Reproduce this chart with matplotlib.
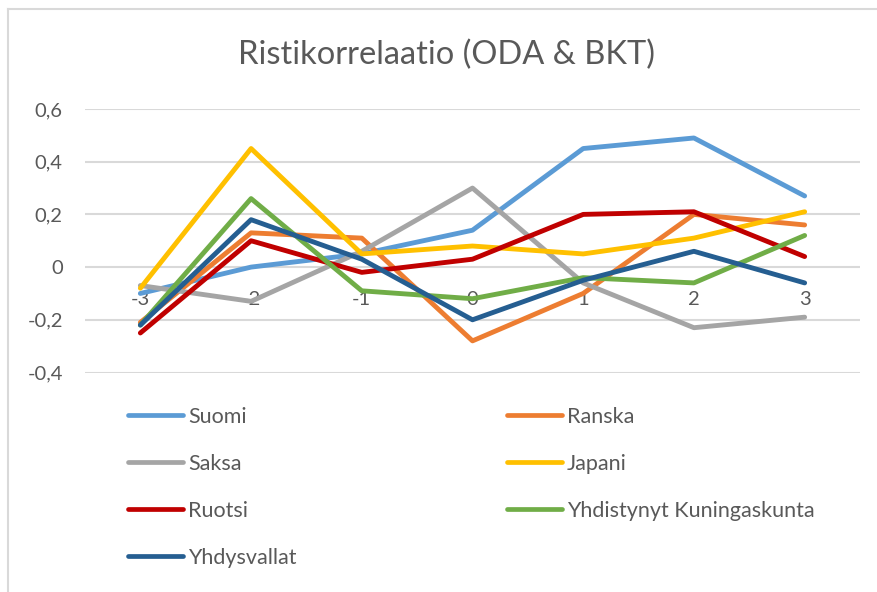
import matplotlib
matplotlib.use("Agg")
import matplotlib.pyplot as plt
from matplotlib.lines import Line2D

plt.rcParams['font.family'] = ['Lato', 'DejaVu Sans']

# ---- data ----
lags = [-3, -2, -1, 0, 1, 2, 3]
lag_labels = ["-3", "-2", "-1", "0", "1", "2", "3"]
suomi = [-0.10, 0.00, 0.05, 0.14, 0.45, 0.49, 0.27]
ranska = [-0.21, 0.13, 0.11, -0.28, -0.10, 0.20, 0.16]
saksa = [-0.07, -0.13, 0.06, 0.30, -0.06, -0.23, -0.19]
japani = [-0.08, 0.45, 0.05, 0.08, 0.05, 0.11, 0.21]
ruotsi = [-0.25, 0.10, -0.02, 0.03, 0.20, 0.21, 0.04]
uk = [-0.22, 0.26, -0.09, -0.12, -0.04, -0.06, 0.12]
usa = [-0.22, 0.18, 0.03, -0.20, -0.05, 0.06, -0.06]

series_names = ["Suomi", "Ranska", "Saksa", "Japani", "Ruotsi",
                "Yhdistynyt Kuningaskunta", "Yhdysvallat"]
series_values = [suomi, ranska, saksa, japani, ruotsi, uk, usa]
colors = ["#5B9BD5", "#ED7D31", "#A5A5A5", "#FFC000", "#C00000",
          "#70AD47", "#255E91"]

yticks = [-0.4, -0.2, 0, 0.2, 0.4, 0.6]
ytick_labels = ["-0,4", "-0,2", "0", "0,2", "0,4", "0,6"]
title = "Ristikorrelaatio (ODA & BKT)"

text_color = "#595959"
grid_color = "#D9D9D9"

W, H = 877, 592
fig = plt.figure(figsize=(W / 100, H / 100), dpi=100)

# chart-area border (top and left visible)
fig.add_artist(Line2D([8 / W, 8 / W], [0, 1 - 9 / H], transform=fig.transFigure,
                      color=grid_color, lw=1.5))
fig.add_artist(Line2D([8 / W, 1], [1 - 9 / H, 1 - 9 / H], transform=fig.transFigure,
                      color=grid_color, lw=1.5))

left, right = 85 / W, 860 / W
top, bottom = 1 - 109 / H, 1 - 372.5 / H
ax = fig.add_axes([left, bottom, right - left, top - bottom])

handles = []
for name, vals, c in zip(series_names, series_values, colors):
    ln, = ax.plot(lags, vals, color=c, lw=3.5, label=name,
                  solid_capstyle='round', solid_joinstyle='round')
    handles.append(ln)

ax.set_xlim(-3.5, 3.5)
ax.set_ylim(-0.4, 0.6)
ax.set_yticks(yticks)
ax.set_yticklabels(ytick_labels)
ax.set_xticks(lags)
ax.set_xticklabels(lag_labels)
ax.grid(axis='y', color=grid_color, lw=1.5)
ax.set_axisbelow(True)
for s in ['left', 'right', 'top']:
    ax.spines[s].set_visible(False)
ax.spines['bottom'].set_position(('data', 0))
ax.spines['bottom'].set_color('none')
ax.tick_params(axis='both', length=0, labelsize=14.5, colors=text_color)
ax.tick_params(axis='x', pad=17)
ax.tick_params(axis='y', pad=16)

fig.text(446 / W, 1 - 55 / H, title, ha='center', va='center',
         fontsize=23.5, color=text_color)

order = [0, 2, 4, 6, 1, 3, 5]
leg = fig.legend([handles[i] for i in order], [series_names[i] for i in order],
                 ncol=2, loc='upper left', bbox_to_anchor=(128 / W, 1 - 407 / H),
                 frameon=False, fontsize=15.5, handlelength=2.56,
                 handletextpad=0.22, columnspacing=9.8, labelspacing=1.25,
                 borderaxespad=0, borderpad=0)
for t in leg.get_texts():
    t.set_color(text_color)
for l in leg.get_lines():
    l.set_linewidth(3.4)
    l.set_solid_capstyle('round')

fig.savefig("out.png", dpi=100)
